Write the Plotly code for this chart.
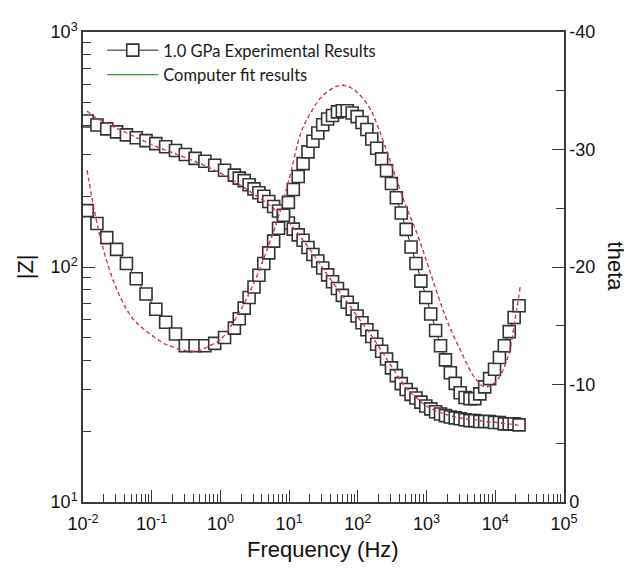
import plotly.graph_objects as go

# ---------------- data ----------------
freq_hz = [0.01148, 0.01596, 0.02218, 0.03083, 0.04281, 0.05947, 0.08262, 0.1148,
           0.1596, 0.2218, 0.3083, 0.4281, 0.5947, 0.8262, 1.148, 1.596,
           1.881, 2.218, 2.614, 3.081, 3.632, 4.281, 5.047, 5.949, 7.013, 8.267,
           9.745, 11.49, 13.54, 15.96,
           18.81, 22.18, 26.14, 30.81, 36.32, 42.81, 50.47, 59.49, 70.13, 82.67,
           97.45, 114.9, 135.4, 159.6,
           188.1, 221.8, 261.4, 308.1, 363.2, 428.1, 504.7, 594.9, 701.3, 826.7,
           974.5, 1149, 1354, 1596,
           1881, 2218, 2614, 3081, 3632, 4281, 5047, 5949, 7013, 8267,
           9745, 11490, 13540, 15960,
           18810, 22180]

z_exp = [418, 402, 387, 376, 365, 355, 345, 335, 325, 313, 301, 290, 282, 271, 258, 246,
         239, 233, 224, 215, 207, 200, 190, 181, 173, 163,
         154, 145, 137, 130, 121, 113, 106, 99, 92.6, 86.6,
         81.0, 75.7, 70.8, 66.2, 61.9, 57.9, 54.1, 50.6, 46.9, 43.8,
         40.6, 37.2, 34.5, 31.9, 30.1, 28.7, 27.7, 26.6, 25.6, 24.9,
         24.2, 23.7, 23.3, 23.0, 22.8, 22.6, 22.4, 22.2, 22.2, 22.0,
         22.0, 22.0, 21.8, 21.8, 21.5, 21.5, 21.5, 21.3]

theta_exp = [-24.8, -23.7, -22.5, -21.5, -20.3, -19.0, -17.7, -16.4, -15.3, -14.3,
             -13.3, -13.3, -13.3, -13.5, -14.0, -14.8,
             -15.6, -16.5, -17.4, -18.3, -19.3, -20.3, -21.2, -22.2, -23.3, -24.4,
             -25.5, -26.6, -27.7, -28.8, -29.8, -30.7, -31.4, -32.1, -32.6, -32.9,
             -33.2, -33.3, -33.3, -33.1, -32.8, -32.3, -31.7, -30.9, -30.1, -29.2,
             -28.2, -27.1, -25.9, -24.6, -23.2, -21.7, -20.3, -18.8, -17.4, -16.0,
             -14.6, -13.3, -12.1, -11.0, -10.1, -9.3, -8.9, -8.8, -8.8, -9.2,
             -9.8, -10.5, -11.3, -12.3, -13.3, -14.5, -15.7, -16.7]

fit_freq_hz = [0.0115, 0.015, 0.02, 0.03, 0.05, 0.07, 0.1, 0.15, 0.2, 0.3, 0.5, 0.7,
               1, 1.5, 2, 3, 5, 7, 10, 15, 20, 30, 50, 70, 100, 150, 200, 300, 500,
               700, 1000, 1500, 2000, 3000, 5000, 7000, 10000, 15000, 20000, 23000]

z_fit = [460, 434, 414, 391, 365, 348, 332, 316, 307, 293, 276, 264,
         251, 235, 222, 205, 185, 170, 154, 133, 119, 100, 81.0, 70.8, 61.3,
         52.1, 46.0, 38.3, 30.7, 27.9, 25.6, 24.2, 23.5, 22.8, 22.4, 22.0,
         21.8, 21.5, 21.3, 21.1]

theta_fit = [-28.2, -24.5, -21.4, -18.3, -15.8, -14.9, -14.2, -13.5, -13.2, -12.9,
             -12.9, -13.3, -13.8, -15.2, -16.4, -18.5, -21.8, -24.3, -27.5, -31.5,
             -33.0, -34.5, -35.4, -35.4, -34.8, -33.5, -31.8, -28.9, -25.2, -23.1,
             -20.5, -17.4, -15.4, -13.1, -10.6, -9.8, -10.2, -12.2, -16.0, -18.3]

x_tickvals = [0.01, 0.1, 1, 10, 100, 1000, 10000, 100000]
x_ticktext = ["10<sup>-2</sup>", "10<sup>-1</sup>", "10<sup>0</sup>", "10<sup>1</sup>",
              "10<sup>2</sup>", "10<sup>3</sup>", "10<sup>4</sup>", "10<sup>5</sup>"]
y_tickvals = [10, 100, 1000]
y_ticktext = ["10<sup>1</sup>", "10<sup>2</sup>", "10<sup>3</sup>"]
y2_tickvals = [0, -10, -20, -30, -40]
y2_ticktext = ["0", "-10", "-20", "-30", "-40"]

# ---------------- figure ----------------
AX = "#3a3a3a"
TICKFONT = dict(family="Liberation Sans, Arial, sans-serif", size=18, color="#111111")
TITLEFONT = dict(family="Liberation Sans, Arial, sans-serif", size=22, color="#111111")

fig = go.Figure()

fig.add_trace(go.Scatter(
    x=freq_hz, y=z_exp, mode="lines+markers", name="1.0 GPa Experimental Results",
    line=dict(color="#222222", width=1),
    marker=dict(symbol="square", size=12, color="white", line=dict(color="#333333", width=1.6)),
    yaxis="y", showlegend=True))
fig.add_trace(go.Scatter(
    x=freq_hz, y=theta_exp, mode="lines+markers", name="1.0 GPa Experimental Results",
    line=dict(color="#222222", width=1),
    marker=dict(symbol="square", size=12, color="white", line=dict(color="#333333", width=1.6)),
    yaxis="y2", showlegend=False))

for yv, ax in ((z_fit, "y"), (theta_fit, "y2")):
    fig.add_trace(go.Scatter(x=fit_freq_hz, y=yv, mode="lines", line_shape="spline",
                             line=dict(color="#ff3030", width=1.3, dash="4px,3px"),
                             yaxis=ax, showlegend=False, hoverinfo="skip"))
    fig.add_trace(go.Scatter(x=fit_freq_hz, y=yv, mode="lines", line_shape="spline",
                             line=dict(color="#3030ff", width=1.4, dash="1px,6px"),
                             yaxis=ax, showlegend=False, hoverinfo="skip"))

fig.add_trace(go.Scatter(x=[None], y=[None], mode="lines", name="Computer fit results",
                         line=dict(color="#2ca02c", width=1.2), yaxis="y"))

# the page body adds an 8 px offset at top-left
fig.update_layout(
    width=624, height=562,
    margin=dict(l=75, r=68, t=14, b=68),
    plot_bgcolor="white", paper_bgcolor="white",
    showlegend=True,
    legend=dict(x=0.04, y=0.998, xanchor="left", yanchor="top",
                bgcolor="rgba(0,0,0,0)",
                font=dict(family="Lato, Open Sans, sans-serif", size=16.5, color="#1a1a1a"),
                tracegroupgap=0, itemwidth=51),
    xaxis=dict(type="log", range=[-2, 5], showgrid=False, zeroline=False,
               showline=True, linecolor=AX, linewidth=1.5, mirror=True,
               ticks="inside", ticklen=12, tickwidth=1.2, tickcolor=AX,
               tickmode="array", tickvals=x_tickvals, ticktext=x_ticktext,
               tickfont=TICKFONT, ticklabelstandoff=5,
               minor=dict(ticks="inside", ticklen=8, tickwidth=1.2, tickcolor=AX,
                          dtick="D1", showgrid=False)),
    yaxis=dict(type="log", range=[1, 3], showgrid=False, zeroline=False,
               showline=True, linecolor=AX, linewidth=1.5,
               ticks="inside", ticklen=12, tickwidth=1.2, tickcolor=AX,
               tickmode="array", tickvals=y_tickvals, ticktext=y_ticktext,
               tickfont=TICKFONT,
               minor=dict(ticks="inside", ticklen=8, tickwidth=1.2, tickcolor=AX,
                          dtick="D1", showgrid=False)),
    yaxis2=dict(overlaying="y", side="right", range=[0, -40], showgrid=False,
                zeroline=False, showline=True, linecolor=AX, linewidth=1.5,
                ticks="inside", ticklen=12, tickwidth=1.2, tickcolor=AX,
                tickmode="array", tickvals=y2_tickvals, ticktext=y2_ticktext,
                tickfont=TICKFONT,
                minor=dict(ticks="inside", ticklen=8, tickwidth=1.2, tickcolor=AX,
                           dtick=5, showgrid=False)),
    annotations=[
        dict(text="Frequency (Hz)", xref="paper", yref="paper", x=0.498, y=-0.1,
             xanchor="center", yanchor="middle", showarrow=False, font=TITLEFONT),
        dict(text="|Z|", xref="paper", yref="paper", x=-0.12, y=0.5, textangle=-90,
             xanchor="center", yanchor="middle", showarrow=False, font=TITLEFONT),
        dict(text="theta", xref="paper", yref="paper", x=1.109, y=0.5, textangle=90,
             xanchor="center", yanchor="middle", showarrow=False, font=TITLEFONT),
    ],
)

fig.write_html("out.html")
